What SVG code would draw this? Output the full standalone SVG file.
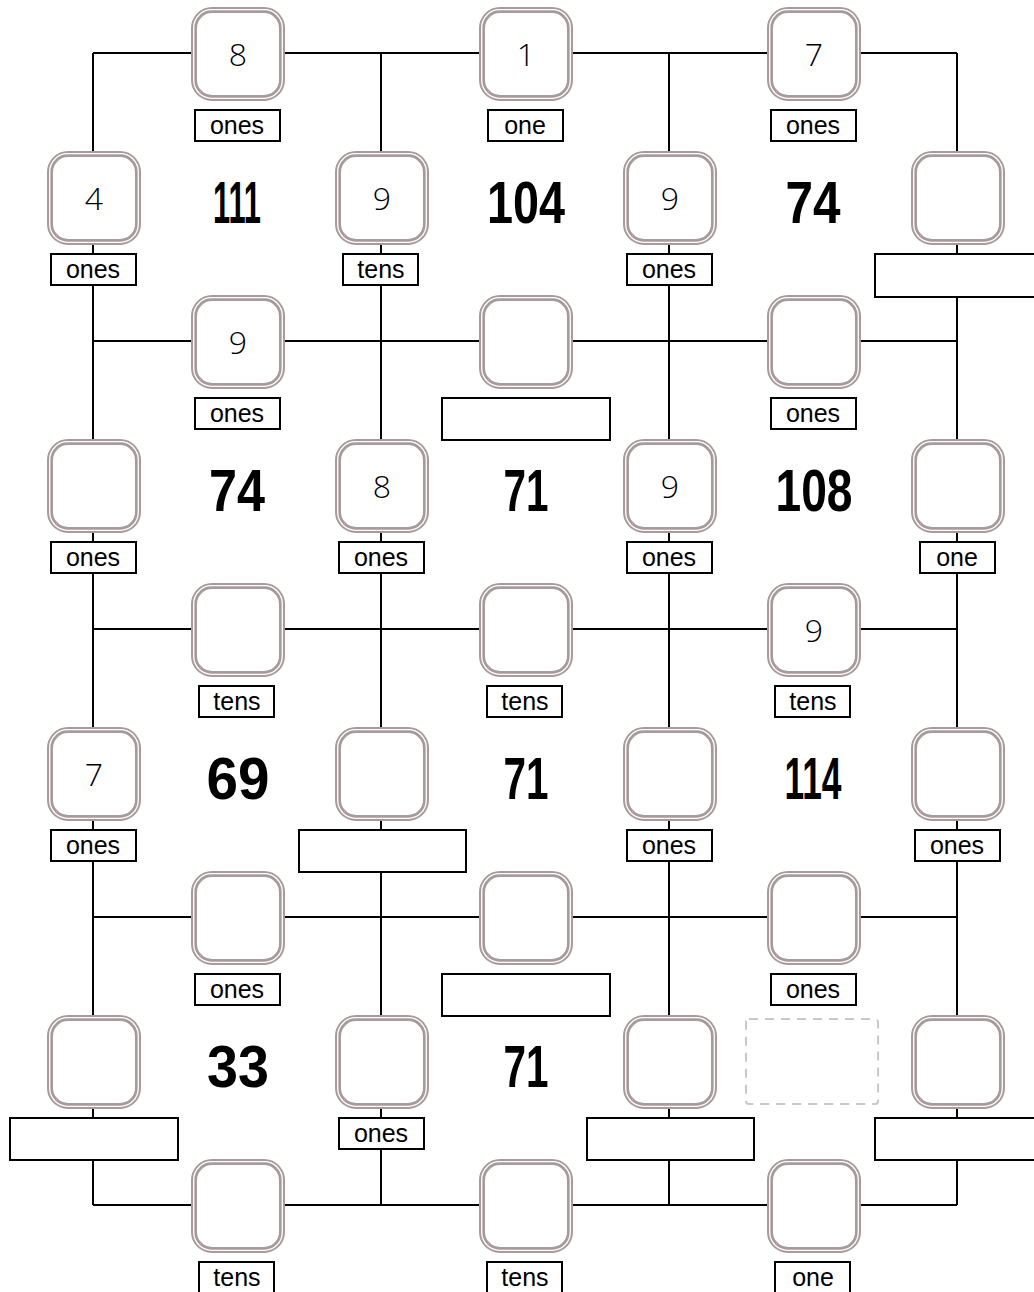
<svg xmlns="http://www.w3.org/2000/svg" width="1034" height="1292" viewBox="0 0 1034 1292">
<style>
.bx{fill:#fff;stroke:#a89a9a;stroke-width:6}
.bi{fill:none;stroke:#fff;stroke-width:1.3}
.lb{fill:#fff;stroke:#000;stroke-width:2}
.lt{font-family:"Liberation Sans",Arial,sans-serif;font-size:25px;text-anchor:middle;fill:#000}
.dg{font-family:"Open Sans","Liberation Sans",Arial,sans-serif;font-weight:300;font-size:32px;text-anchor:middle;fill:#000}
.bg{font-family:"Liberation Sans",Arial,sans-serif;font-size:60px;font-weight:bold;text-anchor:middle;fill:#000}
.cn{stroke:#000;stroke-width:2;fill:none}
.ds{fill:none;stroke:#c8c8c8;stroke-width:2;stroke-dasharray:9 7}
</style>
<defs>
<g id="box"><rect class="bx" x="-44" y="-44" width="88" height="88" rx="18"/><rect class="bi" x="-44.3" y="-44.3" width="88.6" height="88.6" rx="18"/></g>
</defs>
<rect width="1034" height="1292" fill="#fff"/>
<g id="connectors" class="cn">
<line x1="93" y1="53" x2="957" y2="53"/>
<line x1="93" y1="341" x2="957" y2="341"/>
<line x1="93" y1="629" x2="957" y2="629"/>
<line x1="93" y1="917" x2="957" y2="917"/>
<line x1="93" y1="1205" x2="957" y2="1205"/>
<line x1="93" y1="53" x2="93" y2="1205"/>
<line x1="381" y1="53" x2="381" y2="1205"/>
<line x1="669" y1="53" x2="669" y2="1205"/>
<line x1="957" y1="53" x2="957" y2="1205"/>
</g>
<!-- row 53 -->
<g id="n-8"><use href="#box" x="238" y="54"/><text class="dg" x="238" y="66">8</text><rect class="lb" x="195" y="110" width="85" height="31"/><text class="lt" x="237" y="134">ones</text></g>
<g id="n-1"><use href="#box" x="526" y="54"/><text class="dg" x="526" y="66">1</text><rect class="lb" x="488" y="110" width="75" height="31"/><text class="lt" x="525" y="134">one</text></g>
<g id="n-7a"><use href="#box" x="814" y="54"/><text class="dg" x="814" y="66">7</text><rect class="lb" x="771" y="110" width="85" height="31"/><text class="lt" x="813" y="134">ones</text></g>
<!-- row 197 -->
<g id="n-4"><use href="#box" x="94" y="198"/><text class="dg" x="94" y="210">4</text><rect class="lb" x="51" y="254" width="85" height="31"/><text class="lt" x="93" y="278">ones</text></g>
<g id="t-111"><text class="bg" x="237" y="223" textLength="48" lengthAdjust="spacingAndGlyphs">111</text></g>
<g id="n-9a"><use href="#box" x="382" y="198"/><text class="dg" x="382" y="210">9</text><rect class="lb" x="343" y="254" width="75" height="31"/><text class="lt" x="381" y="278">tens</text></g>
<g id="t-104"><text class="bg" x="526" y="223" textLength="78" lengthAdjust="spacingAndGlyphs">104</text></g>
<g id="n-9b"><use href="#box" x="670" y="198"/><text class="dg" x="670" y="210">9</text><rect class="lb" x="627" y="254" width="85" height="31"/><text class="lt" x="669" y="278">ones</text></g>
<g id="t-74a"><text class="bg" x="813" y="223" textLength="55" lengthAdjust="spacingAndGlyphs">74</text></g>
<g id="n-r1c7"><use href="#box" x="958" y="198"/><rect class="lb" x="875" y="254" width="170" height="43"/></g>
<!-- row 341 -->
<g id="n-9c"><use href="#box" x="238" y="342"/><text class="dg" x="238" y="354">9</text><rect class="lb" x="195" y="398" width="85" height="31"/><text class="lt" x="237" y="422">ones</text></g>
<g id="n-r2c4"><use href="#box" x="526" y="342"/><rect class="lb" x="442" y="398" width="168" height="42"/></g>
<g id="n-r2c6"><use href="#box" x="814" y="342"/><rect class="lb" x="771" y="398" width="85" height="31"/><text class="lt" x="813" y="422">ones</text></g>
<!-- row 485 -->
<g id="n-r3c1"><use href="#box" x="94" y="486"/><rect class="lb" x="51" y="542" width="85" height="31"/><text class="lt" x="93" y="566">ones</text></g>
<g id="t-74b"><text class="bg" x="237" y="511" textLength="56" lengthAdjust="spacingAndGlyphs">74</text></g>
<g id="n-8b"><use href="#box" x="382" y="486"/><text class="dg" x="382" y="498">8</text><rect class="lb" x="339" y="542" width="85" height="31"/><text class="lt" x="381" y="566">ones</text></g>
<g id="t-71a"><text class="bg" x="526" y="511" textLength="45" lengthAdjust="spacingAndGlyphs">71</text></g>
<g id="n-9d"><use href="#box" x="670" y="486"/><text class="dg" x="670" y="498">9</text><rect class="lb" x="627" y="542" width="85" height="31"/><text class="lt" x="669" y="566">ones</text></g>
<g id="t-108"><text class="bg" x="814" y="511" textLength="77" lengthAdjust="spacingAndGlyphs">108</text></g>
<g id="n-r3c7"><use href="#box" x="958" y="486"/><rect class="lb" x="920" y="542" width="75" height="31"/><text class="lt" x="957" y="566">one</text></g>
<!-- row 629 -->
<g id="n-r4c2"><use href="#box" x="238" y="630"/><rect class="lb" x="199" y="686" width="75" height="31"/><text class="lt" x="237" y="710">tens</text></g>
<g id="n-r4c4"><use href="#box" x="526" y="630"/><rect class="lb" x="487" y="686" width="75" height="31"/><text class="lt" x="525" y="710">tens</text></g>
<g id="n-9e"><use href="#box" x="814" y="630"/><text class="dg" x="814" y="642">9</text><rect class="lb" x="775" y="686" width="75" height="31"/><text class="lt" x="813" y="710">tens</text></g>
<!-- row 773 -->
<g id="n-7b"><use href="#box" x="94" y="774"/><text class="dg" x="94" y="786">7</text><rect class="lb" x="51" y="830" width="85" height="31"/><text class="lt" x="93" y="854">ones</text></g>
<g id="t-69"><text class="bg" x="238" y="799" textLength="63" lengthAdjust="spacingAndGlyphs">69</text></g>
<g id="n-r5c3"><use href="#box" x="382" y="774"/><rect class="lb" x="299" y="830" width="167" height="42"/></g>
<g id="t-71b"><text class="bg" x="526" y="799" textLength="45" lengthAdjust="spacingAndGlyphs">71</text></g>
<g id="n-r5c5"><use href="#box" x="670" y="774"/><rect class="lb" x="627" y="830" width="85" height="31"/><text class="lt" x="669" y="854">ones</text></g>
<g id="t-114"><text class="bg" x="813" y="799" textLength="57" lengthAdjust="spacingAndGlyphs">114</text></g>
<g id="n-r5c7"><use href="#box" x="958" y="774"/><rect class="lb" x="915" y="830" width="85" height="31"/><text class="lt" x="957" y="854">ones</text></g>
<!-- row 917 -->
<g id="n-r6c2"><use href="#box" x="238" y="918"/><rect class="lb" x="195" y="974" width="85" height="31"/><text class="lt" x="237" y="998">ones</text></g>
<g id="n-r6c4"><use href="#box" x="526" y="918"/><rect class="lb" x="442" y="974" width="168" height="42"/></g>
<g id="n-r6c6"><use href="#box" x="814" y="918"/><rect class="lb" x="771" y="974" width="85" height="31"/><text class="lt" x="813" y="998">ones</text></g>
<!-- row 1061 -->
<g id="n-r7c1"><use href="#box" x="94" y="1062"/><rect class="lb" x="10" y="1118" width="168" height="42"/></g>
<g id="t-33"><text class="bg" x="238" y="1087" textLength="62" lengthAdjust="spacingAndGlyphs">33</text></g>
<g id="n-r7c3"><use href="#box" x="382" y="1062"/><rect class="lb" x="339" y="1118" width="85" height="31"/><text class="lt" x="381" y="1142">ones</text></g>
<g id="t-71c"><text class="bg" x="526" y="1087" textLength="45" lengthAdjust="spacingAndGlyphs">71</text></g>
<g id="n-r7c5"><use href="#box" x="670" y="1062"/><rect class="lb" x="587" y="1118" width="167" height="42"/></g>
<g id="n-dashed"><rect class="ds" x="746" y="1019" width="132" height="85" rx="3"/></g>
<g id="n-r7c7"><use href="#box" x="958" y="1062"/><rect class="lb" x="875" y="1118" width="170" height="42"/></g>
<!-- row 1205 -->
<g id="n-r8c2"><use href="#box" x="238" y="1206"/><rect class="lb" x="199" y="1262" width="75" height="40"/><text class="lt" x="237" y="1286">tens</text></g>
<g id="n-r8c4"><use href="#box" x="526" y="1206"/><rect class="lb" x="487" y="1262" width="75" height="40"/><text class="lt" x="525" y="1286">tens</text></g>
<g id="n-r8c6"><use href="#box" x="814" y="1206"/><rect class="lb" x="775" y="1262" width="75" height="40"/><text class="lt" x="813" y="1286">one</text></g>
</svg>
